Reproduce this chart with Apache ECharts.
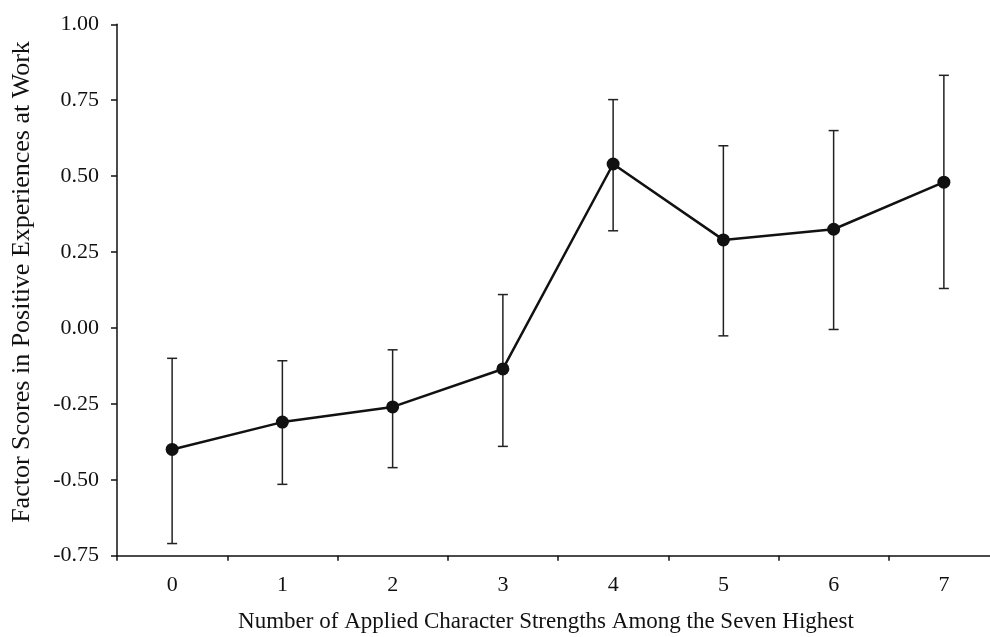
<!DOCTYPE html>
<html>
<head>
<meta charset="utf-8">
<script src="https://cdn.jsdelivr.net/npm/echarts@6/dist/echarts.min.js"></script>
<style>html,body{margin:0;padding:0;background:#fff;}#c{width:990px;height:637px;}</style>
</head>
<body>
<div id="c"></div>
<script>
const categories = ['0','1','2','3','4','5','6','7'];
const means = [-0.40, -0.31, -0.26, -0.135, 0.54, 0.29, 0.325, 0.48];
const lower = [-0.71, -0.515, -0.46, -0.39, 0.32, -0.026, -0.005, 0.13];
const upper = [-0.10, -0.108, -0.072, 0.11, 0.752, 0.60, 0.65, 0.832];
const yTicks = { min: -0.75, max: 1.0, interval: 0.25 };

const font = 'Liberation Serif';
const chart = echarts.init(document.getElementById('c'));
const errData = categories.map((c, i) => [i, lower[i], upper[i]]);
chart.setOption({
  animation: false,
  grid: { left: 117, top: 24.3, bottom: 81.3, width: 882, outerBoundsMode: 'none', containLabel: false },
  xAxis: {
    type: 'category',
    data: categories,
    boundaryGap: true,
    name: 'Number of Applied Character Strengths Among the Seven Highest',
    nameLocation: 'middle',
    nameGap: 55,
    nameTextStyle: { fontFamily: font, fontSize: 23, color: '#111', padding: [0, 24, 0, 0] },
    axisLine: { onZero: false, lineStyle: { color: '#111', width: 1.5 } },
    axisTick: { show: true, length: 5, lineStyle: { color: '#111', width: 1.5 } },
    axisLabel: { fontFamily: font, fontSize: 22, color: '#111', margin: 19 },
    splitLine: { show: false }
  },
  yAxis: {
    type: 'value',
    min: yTicks.min, max: yTicks.max, interval: yTicks.interval,
    name: 'Factor Scores in Positive Experiences at Work',
    nameLocation: 'middle',
    nameGap: 82,
    nameTextStyle: { fontFamily: font, fontSize: 26, color: '#111', padding: [0, 0, 0, 16] },
    axisLine: { show: true, onZero: false, lineStyle: { color: '#111', width: 1.5 } },
    axisTick: { show: true, length: 6, lineStyle: { color: '#111', width: 1.5 } },
    axisLabel: { fontFamily: font, fontSize: 22, color: '#111', margin: 18,
      formatter: v => v.toFixed(2) },
    splitLine: { show: false }
  },
  series: [
    {
      type: 'custom',
      data: errData,
      z: 1,
      renderItem: function (params, api) {
        const x = api.value(0);
        const lo = api.coord([x, api.value(1)]);
        const hi = api.coord([x, api.value(2)]);
        const hw = 5;
        const style = { stroke: '#222', lineWidth: 1.5 };
        return {
          type: 'group',
          children: [
            { type: 'line', shape: { x1: lo[0], y1: lo[1], x2: hi[0], y2: hi[1] }, style },
            { type: 'line', shape: { x1: lo[0] - hw, y1: lo[1], x2: lo[0] + hw, y2: lo[1] }, style },
            { type: 'line', shape: { x1: hi[0] - hw, y1: hi[1], x2: hi[0] + hw, y2: hi[1] }, style }
          ]
        };
      }
    },
    {
      type: 'line',
      data: means,
      z: 2,
      symbol: 'circle',
      symbolSize: 13,
      lineStyle: { color: '#111', width: 2.5 },
      itemStyle: { color: '#111' }
    }
  ]
});
</script>
</body>
</html>
